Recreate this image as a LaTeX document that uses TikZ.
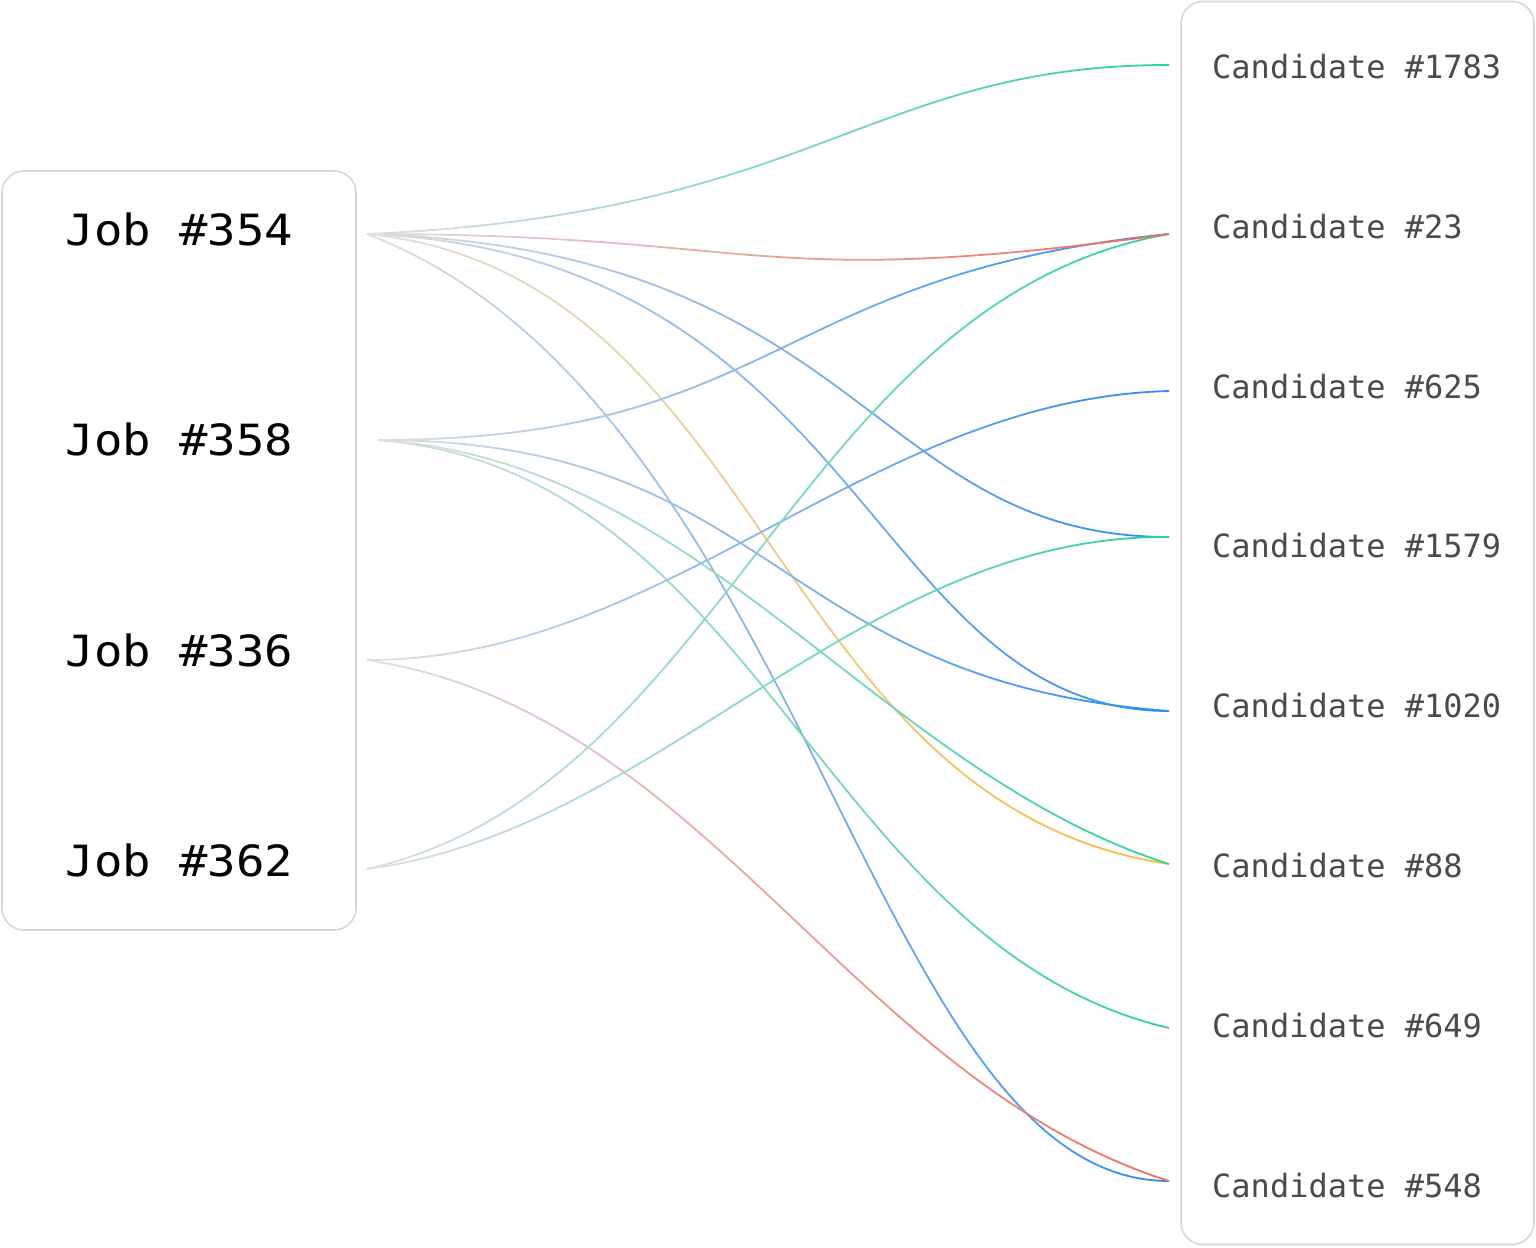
\documentclass[tikz,border=0pt]{standalone}
\usepackage{fontspec}
\newfontfamily\jobfont[FakeStretch=1.1]{DejaVu Sans Mono}
\newfontfamily\candfont{DejaVu Sans Mono}
\definecolor{linkgray}{HTML}{DEDEDE}
\definecolor{lgreen}{HTML}{29D3A0}
\definecolor{lblue}{HTML}{2A8BF2}
\definecolor{lred}{HTML}{EE6D58}
\definecolor{lyellow}{HTML}{F8BB33}
\definecolor{boxgray}{HTML}{D6D6D6}
\definecolor{candtext}{HTML}{4A4A4A}
\tikzset{
  panel/.style={draw=boxgray, line width=1.6pt, rounded corners=22pt, inner sep=0pt},
  jobtxt/.style={font=\jobfont\fontsize{43}{50}\selectfont, text=black, inner sep=0pt},
  candtxt/.style={font=\candfont\fontsize{32}{38}\selectfont, text=candtext, inner sep=0pt},
  linkline/.style={line width=1.8pt},
}
\newcommand{\gradlink}[2]{%
  \foreach \k in {0,...,31}{%
    \pgfmathsetmacro{\xa}{362+\k*25.5}%
    \pgfmathsetmacro{\xb}{\xa+26.2}%
    \pgfmathtruncatemacro{\pc}{(\k+0.5)/32*100}%
    \begin{scope}
      \clip (\xa,-10) rectangle (\xb,1260);
      \draw[linkline, draw=#1!\pc!linkgray] #2;
    \end{scope}
  }%
}
\begin{document}
\begin{tikzpicture}[x=1pt, y=-1pt]
\useasboundingbox (0,0) rectangle (1536,1247);
% panels
\node[panel, minimum width=354pt, minimum height=759pt] (jobpanel) at (179,550.5) {};
\node[panel, minimum width=353pt, minimum height=1243pt] (candpanel) at (1357.5,623) {};
% job labels
\node[jobtxt, anchor=base] (job354) at (179.5,245) {Job \#354};
\node[jobtxt, anchor=base] (job358) at (179.5,455) {Job \#358};
\node[jobtxt, anchor=base] (job336) at (179.5,666) {Job \#336};
\node[jobtxt, anchor=base] (job362) at (179.5,876) {Job \#362};
% candidate labels
\node[candtxt, anchor=base west] (cand1783) at (1212,78) {Candidate \#1783};
\node[candtxt, anchor=base west] (cand23) at (1212,238) {Candidate \#23};
\node[candtxt, anchor=base west] (cand625) at (1212,398) {Candidate \#625};
\node[candtxt, anchor=base west] (cand1579) at (1212,557) {Candidate \#1579};
\node[candtxt, anchor=base west] (cand1020) at (1212,717) {Candidate \#1020};
\node[candtxt, anchor=base west] (cand88) at (1212,877) {Candidate \#88};
\node[candtxt, anchor=base west] (cand649) at (1212,1037) {Candidate \#649};
\node[candtxt, anchor=base west] (cand548) at (1212,1197) {Candidate \#548};
% ports
\coordinate (p354) at (367,234);
\coordinate (p358) at (378,440);
\coordinate (p336) at (367,660);
\coordinate (p362) at (367,869);
\coordinate (q1783) at (1169,65);
\coordinate (q23) at (1169,234);
\coordinate (q625) at (1169,391);
\coordinate (q1579) at (1169,537);
\coordinate (q1020) at (1169,711);
\coordinate (q88) at (1169,864);
\coordinate (q649) at (1169,1028);
\coordinate (q548) at (1169,1181);
% links from Job #354
\gradlink{lgreen}{(p354) .. controls +(450,-20) and +(-300,0) .. (q1783)}
\gradlink{lblue}{(p354) .. controls +(500,15) and +(-300,0) .. (q1579)}
\gradlink{lblue}{(p354) .. controls +(500,20) and +(-300,0) .. (q1020)}
\gradlink{lyellow}{(p354) .. controls +(400,40) and +(-400,-60) .. (q88)}
\gradlink{lblue}{(p354) .. controls +(440,169) and +(-300,0) .. (q548)}
% links from Job #358
\gradlink{lblue}{(p358) .. controls +(400,0) and +(-400,40) .. (q23)}
\gradlink{lblue}{(p358) .. controls +(400,0) and +(-400,-30) .. (q1020)}
\gradlink{lgreen}{(p358) .. controls +(324,20) and +(-292,-93) .. (q88)}
\gradlink{lgreen}{(p358) .. controls +(381,31) and +(-348,-82) .. (q649)}
% links from Job #336
\gradlink{lblue}{(p336) .. controls +(300,0) and +(-300,8) .. (q625)}
\gradlink{lred}{(p336) .. controls +(338,51) and +(-320,-102) .. (q548)}
% links from Job #362
\gradlink{lgreen}{(p362) .. controls +(357,-81) and +(-372,66) .. (q23)}
\gradlink{lgreen}{(p362) .. controls +(294,-39) and +(-309,-3) .. (q1579)}
% red link from Job #354 on top
\gradlink{lred}{(p354) .. controls +(400,0) and +(-420,58) .. (q23)}
\end{tikzpicture}
\end{document}
